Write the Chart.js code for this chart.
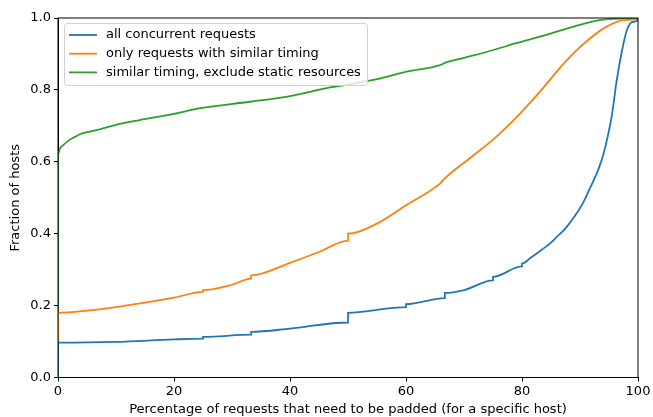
<!DOCTYPE html>
<html lang="en">
<head>
<meta charset="UTF-8">
<title>Padding CDF</title>
<script src="https://cdn.jsdelivr.net/npm/chart.js"></script>
<style>
  html, body { margin: 0; padding: 0; background: #fff; overflow: hidden; }
  canvas { display: block; }
</style>
</head>
<body>
<canvas id="cdf" width="653" height="417"></canvas>
<script>
// series (x = % padded, y = fraction of hosts)
const seriesLabels = ['all concurrent requests', 'only requests with similar timing', 'similar timing, exclude static resources'];

const allX = [0, 0, 10, 20, 25, 25, 33.3, 33.3, 40, 50, 50, 57, 60, 60, 66.7, 66.7, 70, 75, 75, 80, 80, 81.5, 83.3, 85, 86, 87.5, 89.1, 90.5, 91.7, 93.1, 94.0, 94.8, 95.5, 96.3, 97.2, 98.0, 98.9, 99.8, 100];
const allY = [0, 0.097, 0.099, 0.106, 0.108, 0.113, 0.119, 0.127, 0.136, 0.153, 0.18, 0.192, 0.196, 0.204, 0.221, 0.235, 0.243, 0.27, 0.28, 0.309, 0.317, 0.333, 0.354, 0.375, 0.391, 0.415, 0.449, 0.485, 0.526, 0.576, 0.619, 0.672, 0.73, 0.823, 0.906, 0.962, 0.988, 0.992, 1.0];

const simX = [0, 0, 5, 10, 15, 20, 25, 25, 30, 33.3, 33.3, 40, 45, 50, 50, 55, 60, 65.9, 66.7, 71.0, 75.1, 79.7, 83.1, 86.0, 88.9, 91.7, 94.6, 97.5, 99.8, 100];
const simY = [0, 0.18, 0.186, 0.196, 0.208, 0.222, 0.238, 0.243, 0.258, 0.275, 0.284, 0.319, 0.349, 0.381, 0.40, 0.428, 0.479, 0.540, 0.554, 0.610, 0.663, 0.735, 0.795, 0.851, 0.902, 0.943, 0.976, 0.994, 0.997, 1.0];

const staticX = [0, 0, 0.34, 1, 2, 3, 4, 5.5, 7.2, 10, 14.1, 20, 24.5, 33.1, 40, 46.9, 50, 55, 60.1, 65.9, 66.7, 70, 75.1, 79, 83.1, 88.9, 93.4, 98.0, 100];
const staticY = [0, 0.621, 0.637, 0.648, 0.661, 0.67, 0.678, 0.684, 0.69, 0.703, 0.716, 0.733, 0.749, 0.767, 0.783, 0.807, 0.815, 0.83, 0.851, 0.869, 0.875, 0.889, 0.911, 0.93, 0.948, 0.976, 0.994, 0.999, 1.0];

const xTicks = [0, 20, 40, 60, 80, 100];
const yTicks = [0, 0.2, 0.4, 0.6, 0.8, 1.0];
const colors = ['#1f77b4', '#ff7f0e', '#2ca02c'];

const toPoints = (xs, ys) => xs.map((x, i) => ({ x: x, y: ys[i] }));
const FONT = 'DejaVu Sans';

// frame on all four sides
const frame = {
  id: 'frame',
  afterDatasetsDraw(chart) {
    const a = chart.chartArea, c = chart.ctx;
    c.save();
    c.strokeStyle = '#000';
    c.lineWidth = 1;
    c.strokeRect(a.left, a.top, a.right - a.left, a.bottom - a.top);
    c.restore();
  }
};

// matplotlib-like legend box in the upper left
const legendBox = {
  id: 'legendBox',
  afterDraw(chart) {
    const a = chart.chartArea, c = chart.ctx;
    const x0 = a.left + 6, y0 = a.top + 5, w = 303, h = 62;
    c.save();
    c.fillStyle = 'rgba(255,255,255,0.8)';
    c.strokeStyle = '#d0d0d0';
    c.lineWidth = 1;
    c.beginPath();
    c.roundRect(x0 + 0.5, y0 + 0.5, w, h, 3);
    c.fill();
    c.stroke();
    c.font = '13px "' + FONT + '"';
    c.textBaseline = 'middle';
    chart.data.datasets.forEach((ds, i) => {
      const y = y0 + 12 + i * 18.7;
      c.strokeStyle = ds.borderColor;
      c.lineWidth = 1.8;
      c.beginPath();
      c.moveTo(x0 + 5, y);
      c.lineTo(x0 + 33, y);
      c.stroke();
      c.fillStyle = '#000';
      c.fillText(ds.label, x0 + 42, y);
    });
    c.restore();
  }
};

new Chart(document.getElementById('cdf'), {
  type: 'line',
  data: {
    datasets: [
      { label: seriesLabels[0], data: toPoints(allX, allY) },
      { label: seriesLabels[1], data: toPoints(simX, simY) },
      { label: seriesLabels[2], data: toPoints(staticX, staticY) }
    ].map((d, i) => Object.assign(d, {
      borderColor: colors[i],
      backgroundColor: colors[i],
      borderWidth: 1.8,
      pointRadius: 0,
      tension: 0.2,
      cubicInterpolationMode: 'monotone',
      fill: false
    }))
  },
  options: {
    responsive: false,
    animation: false,
    devicePixelRatio: 1,
    layout: { padding: { top: 18, right: 15, left: 0, bottom: 0 } },
    plugins: { legend: { display: false }, tooltip: { enabled: false } },
    scales: {
      x: {
        type: 'linear',
        min: 0, max: 100,
        afterBuildTicks: s => { s.ticks = xTicks.map(v => ({ value: v })); },
        afterFit: s => { s.height = 39.5; },
        grid: { drawOnChartArea: false, drawTicks: true, tickLength: 4, color: '#000' },
        border: { color: '#000' },
        ticks: { color: '#000', padding: 2, maxRotation: 0, font: { family: FONT, size: 13 } },
        title: { display: true, text: 'Percentage of requests that need to be padded (for a specific host)', color: '#000', padding: { top: 0, bottom: 0 }, font: { family: FONT, size: 13 } }
      },
      y: {
        min: 0, max: 1,
        afterBuildTicks: s => { s.ticks = yTicks.map(v => ({ value: v })); },
        afterFit: s => { s.width = 58; },
        grid: { drawOnChartArea: false, drawTicks: true, tickLength: 4, color: '#000' },
        border: { color: '#000' },
        ticks: { color: '#000', padding: 3, callback: v => v.toFixed(1), font: { family: FONT, size: 13 } },
        title: { display: true, text: 'Fraction of hosts', color: '#000', padding: { top: 8, bottom: 2 }, font: { family: FONT, size: 13 } }
      }
    }
  },
  plugins: [frame, legendBox]
});
</script>
</body>
</html>
